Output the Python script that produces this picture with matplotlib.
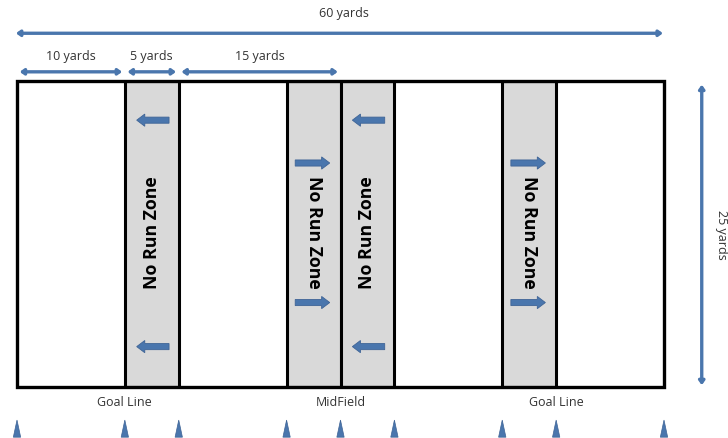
import matplotlib
matplotlib.use('Agg')
import matplotlib.pyplot as plt
from matplotlib.patches import Rectangle, FancyArrow, Polygon

# field in yards
field_len = 60
field_wid = 25
zone_starts = [10, 25, 30, 45]
zone_width = 5
zone_text_rot = [90, -90, 90, -90]
# arrow direction inside each zone: -1 left, +1 right
zone_dirs = [-1, 1, -1, 1]
left_arrow_y = [21.8, 3.3]
right_arrow_y = [18.3, 6.9]

# dimension arrows on top: (start, end, label)
dims = [(0, 10, '10 yards'), (10, 15, '5 yards'), (15, 30, '15 yards')]
bottom_labels = [(10, 'Goal Line'), (30, 'MidField'), (50, 'Goal Line')]
marker_x = [0, 10, 15, 25, 30, 35, 45, 50, 60]

blue = '#4a76ad'
gray = '#d9d9d9'
font = 'Open Sans'

fig = plt.figure(figsize=(7.28, 4.38), dpi=100)
ax = fig.add_axes([17 / 728, 51 / 438, 647 / 728, 306 / 438])
ax.set_xlim(0, field_len)
ax.set_ylim(0, field_wid)
ax.axis('off')

# gray no-run zones
for i, x0 in enumerate(zone_starts):
    ax.add_patch(Rectangle((x0, 0), zone_width, field_wid, facecolor=gray, edgecolor='black', lw=2.2))
    ax.text(x0 + zone_width / 2, 12.6, 'No Run Zone', rotation=zone_text_rot[i], ha='center', va='center',
            fontsize=12.8, fontweight='bold', family=font)
    ys = left_arrow_y if zone_dirs[i] < 0 else right_arrow_y
    for y in ys:
        if zone_dirs[i] < 0:
            xs, dx = x0 + 4.1, -3.0
        else:
            xs, dx = x0 + 0.8, 3.2
        ax.add_patch(FancyArrow(xs, y, dx, 0, width=0.5, head_width=1.0, head_length=0.75,
                                length_includes_head=True, facecolor=blue, edgecolor='#3f6496', lw=0.6))

# field outline
ax.add_patch(Rectangle((0, 0), field_len, field_wid, facecolor='none', edgecolor='black', lw=2.4, clip_on=False))

arrow_kw = dict(arrowstyle='<|-|>,head_length=0.22,head_width=0.16', color=blue, lw=2.4,
                shrinkA=0, shrinkB=0, mutation_scale=10)

# overall length
ax.annotate('', xy=(-0.1, 28.9), xytext=(59.9, 28.9), arrowprops=arrow_kw, annotation_clip=False)
ax.text(30.3, 30.5, '60 yards', ha='center', va='center', fontsize=9, family=font, color='#333333')

for x0, x1, lab in dims:
    ax.annotate('', xy=(x0 + 0.25, 25.75), xytext=(x1 - 0.25, 25.75), arrowprops=arrow_kw, annotation_clip=False)
    ax.text((x0 + x1) / 2, 27.0, lab, ha='center', va='center', fontsize=9, family=font, color='#333333')

# width arrow on the right
ax.annotate('', xy=(63.5, 24.7), xytext=(63.5, 0.15), arrowprops=arrow_kw, annotation_clip=False)
ax.text(65.3, 12.4, '25 yards', rotation=-90, ha='center', va='center', fontsize=9, family=font,
        color='#333333', clip_on=False)

for x, lab in bottom_labels:
    ax.text(x, -1.25, lab, ha='center', va='center', fontsize=9, family=font, color='#333333', clip_on=False)

# cone markers
for x in marker_x:
    ax.add_patch(Polygon([(x - 0.34, -4.1), (x + 0.34, -4.1), (x, -2.7)], closed=True,
                         facecolor=blue, edgecolor='#3f6496', lw=0.5, clip_on=False))

fig.savefig('out.png', dpi=100)
